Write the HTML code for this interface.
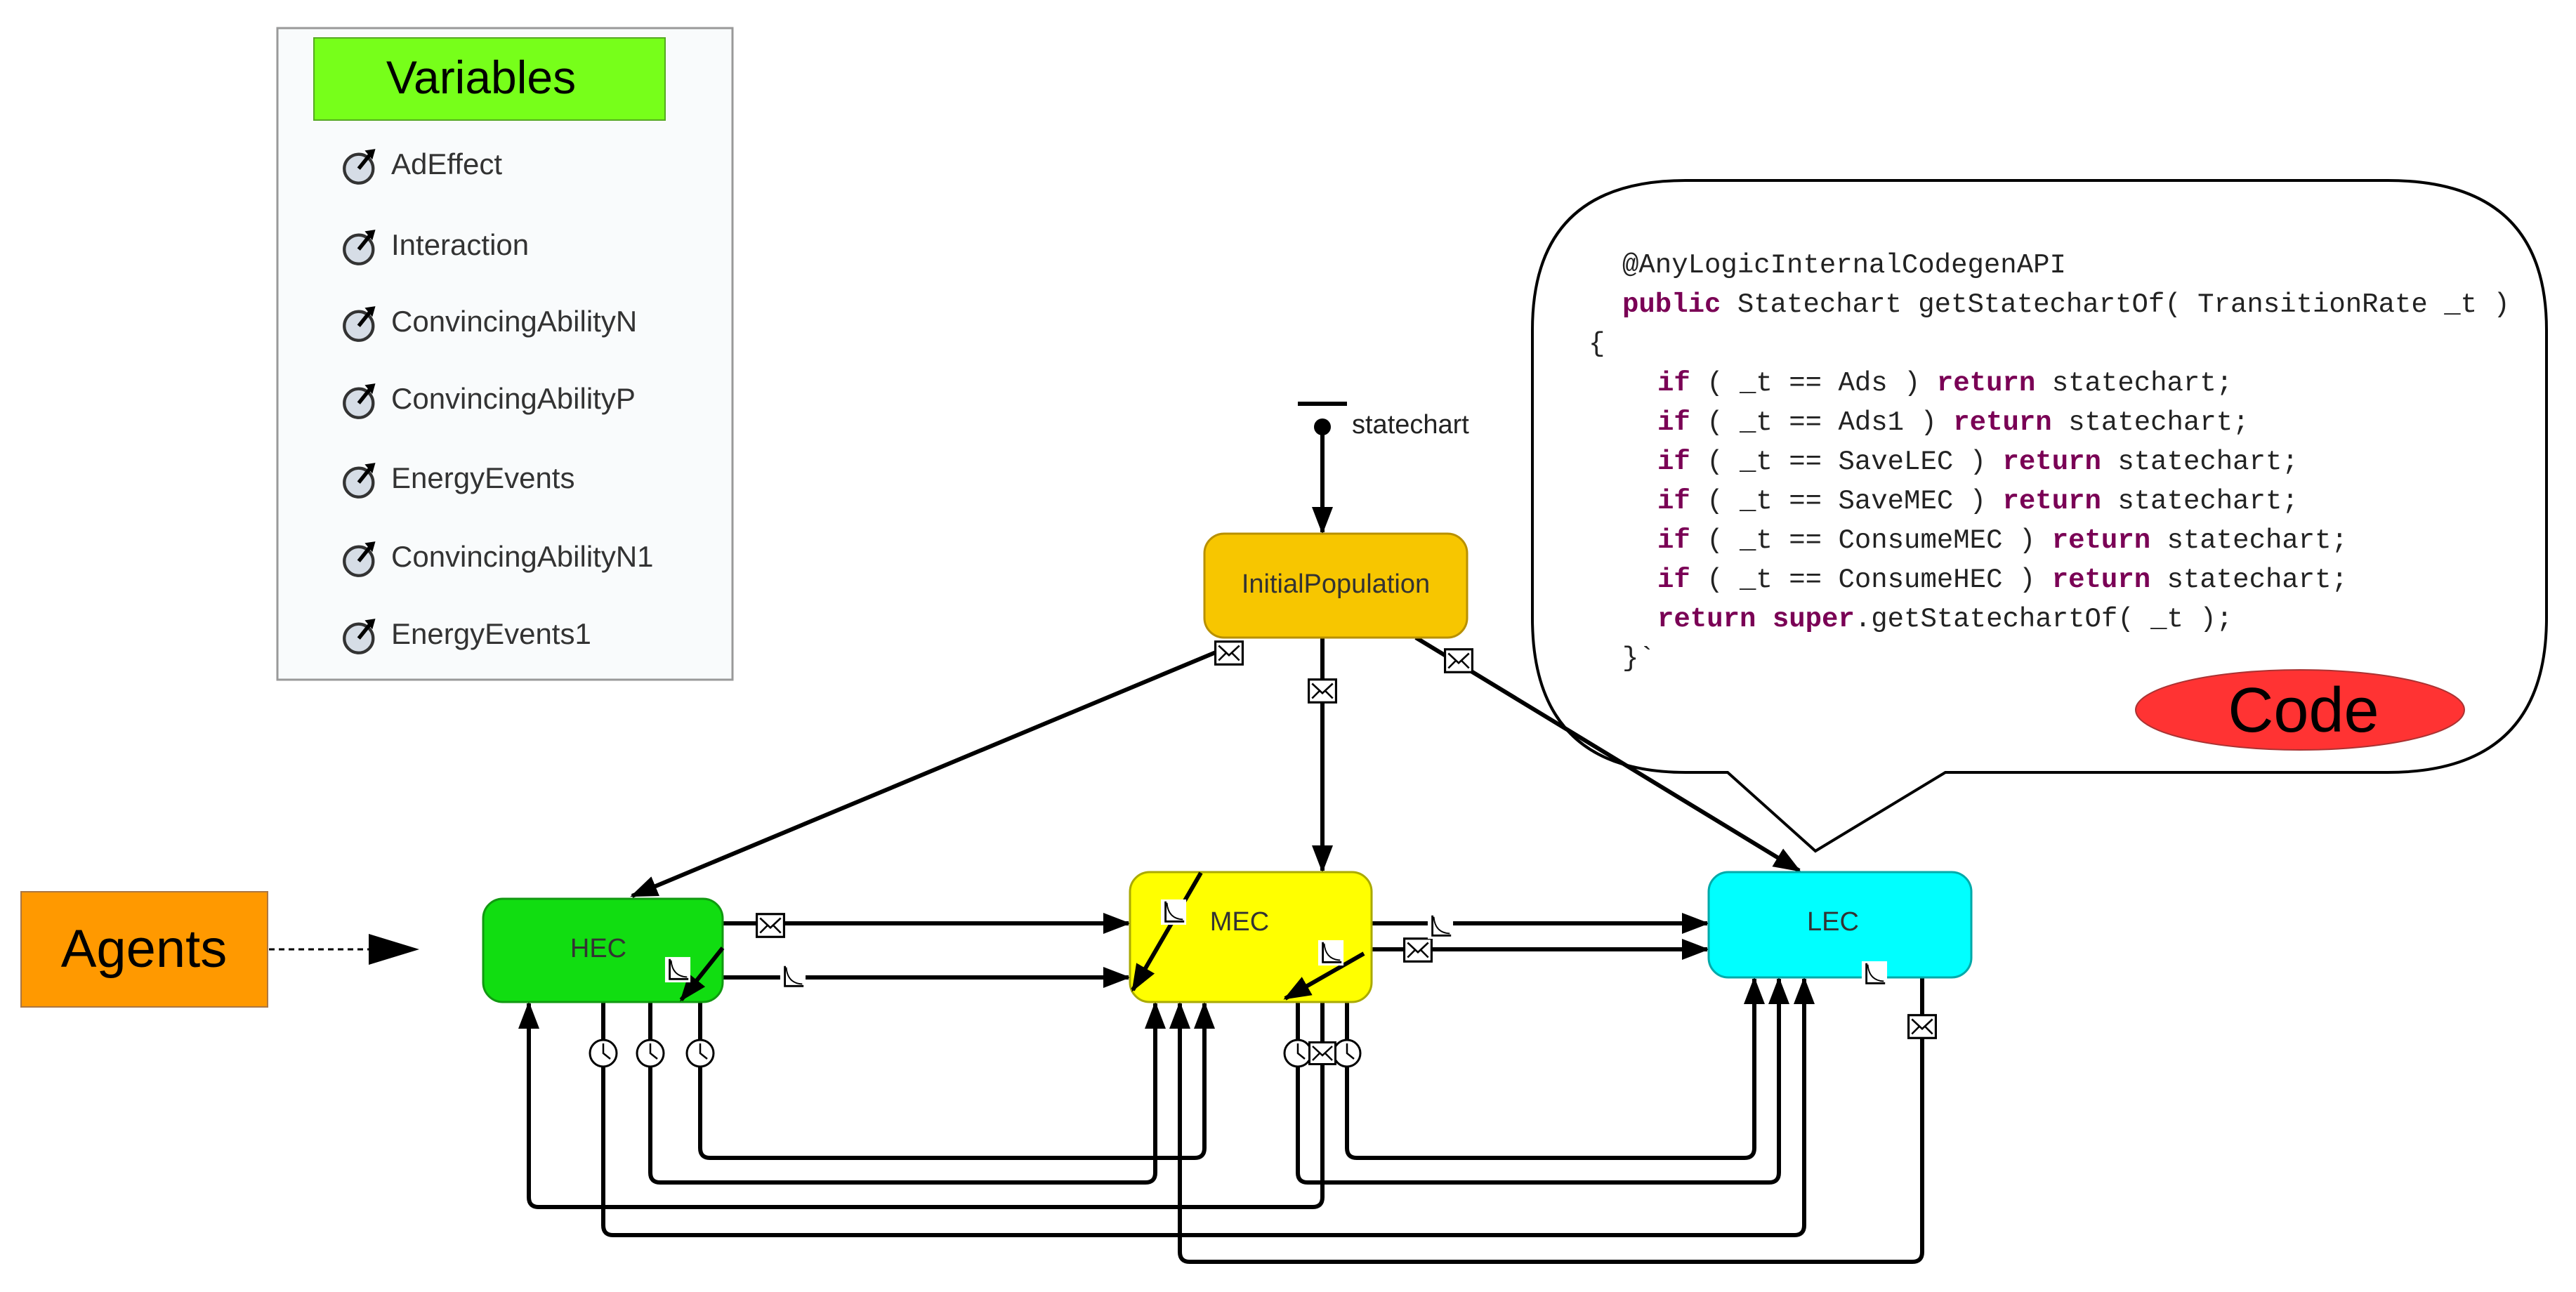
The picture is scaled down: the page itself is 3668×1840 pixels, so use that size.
<!DOCTYPE html>
<html><head><meta charset="utf-8"><style>
html,body{margin:0;padding:0;background:#fff;}
svg{display:block;}
</style></head><body>
<svg width="3668" height="1840" viewBox="0 0 3668 1840" xmlns="http://www.w3.org/2000/svg" font-family="Liberation Sans, sans-serif">
<defs>
<marker id="ah" markerWidth="6.5" markerHeight="5" refX="6" refY="2.5" orient="auto" markerUnits="strokeWidth">
<path d="M0,0 L6.5,2.5 L0,5 z" fill="#000"/></marker>
<symbol id="env" viewBox="0 0 40 34"><rect x="1.5" y="1.5" width="37" height="31" fill="#fff" stroke="#000" stroke-width="3"/><path d="M6,7 L20,20 L34,7 M6,27 L16,17 M34,27 L24,17" fill="none" stroke="#000" stroke-width="2.5"/></symbol>
<symbol id="rate" viewBox="0 0 40 40"><rect x="1" y="1" width="38" height="38" fill="#fff"/><path d="M8,4 L8,34 L36,34" fill="none" stroke="#000" stroke-width="3"/><path d="M10,6 Q12,30 34,31" fill="none" stroke="#000" stroke-width="2"/></symbol>
<symbol id="clk" viewBox="0 0 44 44"><circle cx="22" cy="22" r="19" fill="#fff" stroke="#000" stroke-width="3"/><path d="M22,8 L22,22 L32,30" fill="none" stroke="#000" stroke-width="2.5"/></symbol>
<symbol id="gauge" viewBox="0 0 50 50"><circle cx="22" cy="28" r="19" fill="#d6dde6" stroke="#333" stroke-width="4"/><path d="M22,28 L38,8" stroke="#000" stroke-width="5"/><path d="M30,4 L44,2 L40,16 z" fill="#000"/></symbol>
</defs>

<rect x="395" y="40" width="648" height="928" fill="#f9fbfc" stroke="#999" stroke-width="3"/>
<rect x="447" y="54" width="500" height="117" fill="#77ff1a" stroke="#55aa22" stroke-width="2"/>
<text x="685" y="133" font-size="66" text-anchor="middle" fill="#000">Variables</text>
<g font-size="42" fill="#333">
<use href="#gauge" x="487" y="210" width="54" height="54"/><text x="557" y="248">AdEffect</text>
<use href="#gauge" x="487" y="325" width="54" height="54"/><text x="557" y="363">Interaction</text>
<use href="#gauge" x="487" y="434" width="54" height="54"/><text x="557" y="472">ConvincingAbilityN</text>
<use href="#gauge" x="487" y="544" width="54" height="54"/><text x="557" y="582">ConvincingAbilityP</text>
<use href="#gauge" x="487" y="657" width="54" height="54"/><text x="557" y="695">EnergyEvents</text>
<use href="#gauge" x="487" y="769" width="54" height="54"/><text x="557" y="807">ConvincingAbilityN1</text>
<use href="#gauge" x="487" y="879" width="54" height="54"/><text x="557" y="917">EnergyEvents1</text>
</g>

<rect x="30" y="1270" width="351" height="164" fill="#ff9900" stroke="#aa7744" stroke-width="2"/>
<text x="205" y="1377" font-size="76" text-anchor="middle">Agents</text>
<line x1="383" y1="1352" x2="590" y2="1352" stroke="#000" stroke-width="3" stroke-dasharray="8,6"/>
<path d="M525,1330 L597,1352 L525,1374 z" fill="#000"/>

<path d="M2400,257 L3400,257 Q3626,257 3626,470 L3626,880 Q3626,1100 3400,1100 L2770,1100 L2585,1212 L2460,1100 L2400,1100 Q2182,1100 2182,880 L2182,470 Q2182,257 2400,257 z" fill="#fff" stroke="#000" stroke-width="4"/>
<g font-family="Liberation Mono, monospace" font-size="39" fill="#222">
<text x="2310" y="388">@AnyLogicInternalCodegenAPI</text>
<text x="2310" y="444"><tspan fill="#7a0055" font-weight="bold">public</tspan> Statechart getStatechartOf( TransitionRate _t )</text>
<text x="2262" y="500">{</text>
<text x="2360" y="556"><tspan fill="#7a0055" font-weight="bold">if</tspan> ( _t == Ads ) <tspan fill="#7a0055" font-weight="bold">return</tspan> statechart;</text>
<text x="2360" y="612"><tspan fill="#7a0055" font-weight="bold">if</tspan> ( _t == Ads1 ) <tspan fill="#7a0055" font-weight="bold">return</tspan> statechart;</text>
<text x="2360" y="668"><tspan fill="#7a0055" font-weight="bold">if</tspan> ( _t == SaveLEC ) <tspan fill="#7a0055" font-weight="bold">return</tspan> statechart;</text>
<text x="2360" y="724"><tspan fill="#7a0055" font-weight="bold">if</tspan> ( _t == SaveMEC ) <tspan fill="#7a0055" font-weight="bold">return</tspan> statechart;</text>
<text x="2360" y="780"><tspan fill="#7a0055" font-weight="bold">if</tspan> ( _t == ConsumeMEC ) <tspan fill="#7a0055" font-weight="bold">return</tspan> statechart;</text>
<text x="2360" y="836"><tspan fill="#7a0055" font-weight="bold">if</tspan> ( _t == ConsumeHEC ) <tspan fill="#7a0055" font-weight="bold">return</tspan> statechart;</text>
<text x="2360" y="892"><tspan fill="#7a0055" font-weight="bold">return super</tspan>.getStatechartOf( _t );</text>
<text x="2310" y="948">}`</text>
</g>
<ellipse cx="3275" cy="1011" rx="234" ry="57" fill="#ff3333" stroke="#aa3333" stroke-width="2"/>
<text x="3280" y="1042" font-size="90" text-anchor="middle">Code</text>

<line x1="1848" y1="575" x2="1918" y2="575" stroke="#000" stroke-width="6"/>
<circle cx="1883" cy="608" r="12" fill="#000"/>
<text x="1925" y="617" font-size="38" fill="#222">statechart</text>

<g stroke="#000" stroke-width="6" fill="none" marker-end="url(#ah)">
<line x1="1883" y1="612" x2="1883" y2="758"/>
<line x1="1743" y1="924" x2="900" y2="1276"/>
<line x1="1883" y1="908" x2="1883" y2="1240"/>
<line x1="2016" y1="908" x2="2562" y2="1240"/>
<line x1="1029" y1="1315" x2="1607" y2="1315"/>
<line x1="1029" y1="1392" x2="1607" y2="1392"/>
<line x1="1953" y1="1315" x2="2431" y2="1315"/>
<line x1="1953" y1="1352" x2="2431" y2="1352"/>
<path d="M997,1427 L997,1635 Q997,1649 1011,1649 L1701,1649 Q1715,1649 1715,1635 L1715,1429"/>
<path d="M926,1427 L926,1670 Q926,1684 940,1684 L1631,1684 Q1645,1684 1645,1670 L1645,1429"/>
<path d="M1883,1427 L1883,1705 Q1883,1719 1869,1719 L767,1719 Q753,1719 753,1705 L753,1429"/>
<path d="M859,1427 L859,1745 Q859,1759 873,1759 L2555,1759 Q2569,1759 2569,1745 L2569,1394"/>
<path d="M1918,1427 L1918,1635 Q1918,1649 1932,1649 L2484,1649 Q2498,1649 2498,1635 L2498,1394"/>
<path d="M1848,1427 L1848,1670 Q1848,1684 1862,1684 L2519,1684 Q2533,1684 2533,1670 L2533,1394"/>
<path d="M2737,1392 L2737,1783 Q2737,1797 2723,1797 L1694,1797 Q1680,1797 1680,1783 L1680,1429"/>
</g>

<rect x="1715" y="760" width="374" height="148" rx="28" fill="#f7c600" stroke="#b89000" stroke-width="3"/>
<text x="1902" y="844" font-size="38" text-anchor="middle" fill="#333">InitialPopulation</text>
<rect x="688" y="1280" width="341" height="147" rx="28" fill="#11dd11" stroke="#119911" stroke-width="3"/>
<text x="852" y="1363" font-size="38" text-anchor="middle" fill="#333">HEC</text>
<rect x="1609" y="1242" width="344" height="185" rx="28" fill="#ffff00" stroke="#aaaa00" stroke-width="3"/>
<text x="1765" y="1325" font-size="38" text-anchor="middle" fill="#333">MEC</text>
<rect x="2433" y="1242" width="374" height="150" rx="28" fill="#00ffff" stroke="#00aaaa" stroke-width="3"/>
<text x="2610" y="1325" font-size="38" text-anchor="middle" fill="#333">LEC</text>
<g stroke="#000" stroke-width="6" marker-end="url(#ah)">
<line x1="1710" y1="1243" x2="1613" y2="1410"/>
<line x1="1942" y1="1358" x2="1830" y2="1422"/>
<line x1="1029" y1="1350" x2="970" y2="1424"/>
</g>

<use href="#env" x="1076" y="1300" width="42" height="36"/>
<use href="#env" x="1998" y="1335" width="42" height="36"/>
<use href="#env" x="1862" y="966" width="42" height="36"/>
<use href="#env" x="1729" y="912" width="42" height="36"/>
<use href="#env" x="2056" y="923" width="42" height="36"/>
<use href="#env" x="2716" y="1444" width="42" height="36"/>
<use href="#rate" x="1110" y="1372" width="38" height="38"/>
<use href="#rate" x="946" y="1362" width="38" height="38"/>
<use href="#rate" x="1652" y="1280" width="38" height="38"/>
<use href="#rate" x="1876" y="1338" width="38" height="38"/>
<use href="#rate" x="2032" y="1300" width="38" height="38"/>
<use href="#rate" x="2650" y="1368" width="38" height="38"/>
<use href="#clk" x="837" y="1477" width="44" height="46"/>
<use href="#clk" x="904" y="1477" width="44" height="46"/>
<use href="#clk" x="975" y="1477" width="44" height="46"/>
<use href="#clk" x="1826" y="1477" width="44" height="46"/>
<use href="#clk" x="1896" y="1477" width="44" height="46"/>
<use href="#env" x="1863" y="1483" width="40" height="34"/>
</svg>
</body></html>
